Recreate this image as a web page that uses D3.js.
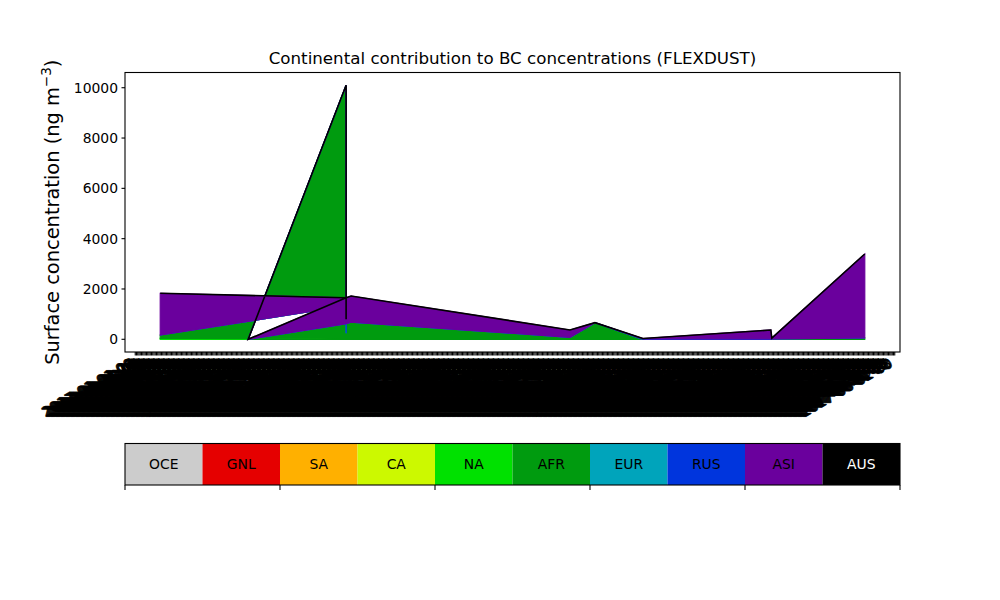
<!DOCTYPE html>
<html>
<head>
<meta charset="utf-8">
<script src="https://cdn.jsdelivr.net/npm/d3@7"></script>
<style>
  body { margin: 0; background: #fff; }
  svg { display: block; }
  text { font-family: "DejaVu Sans", sans-serif; }
</style>
</head>
<body>
<svg id="chart" width="1000" height="600"></svg>
<script>
// ---------------- data ----------------
const regions = ["OCE", "GNL", "SA", "CA", "NA", "AFR", "EUR", "RUS", "ASI", "AUS"];
const regionColors = ["#cccccc", "#e50000", "#ffb000", "#ccf900", "#00e100", "#009b0f", "#00a4bb", "#0035dd", "#6a009d", "#000000"];

// sample positions along the x axis (in the plotting order of the original data)
const sampleX = [0, 30.4, 37.2, 37.2, 17.6, 37.2, 37.2, 37.2, 38.2, 82, 87, 96.6, 122.2, 122.4, 141];

const OCE = [0, 0, 0, 0, 0, 0, 0, 0, 0, 0, 0, 0, 0, 0, 0];
const GNL = [0, 0, 0, 0, 0, 0, 0, 0, 0, 0, 0, 0, 0, 0, 0];
const SA  = [0, 0, 0, 0, 0, 0, 0, 0, 0, 0, 0, 0, 0, 0, 0];
const CA  = [0, 0, 0, 0, 0, 0, 0, 0, 0, 0, 0, 0, 0, 0, 0];
const NA  = [40, 20, 0, 0, 0, 0, 0, 0, 0, 0, 0, 0, 0, 0, 0];
const AFR = [130, 1095, 1630, 620, 0, 10100, 240, 620, 680, 80, 660, 0, 0, 15, 60];
const EUR = [0, 0, 0, 0, 0, 0, 0, 0, 0, 0, 0, 0, 0, 0, 0];
const RUS = [0, 0, 0, 0, 0, 0, 560, 0, 0, 0, 0, 20, 20, 5, 0];
const ASI = [1660, 568, 20, 1030, 0, 0, 0, 1030, 1040, 290, 0, 10, 350, 30, 3330];
const AUS = [0, 0, 0, 0, 0, 0, 0, 0, 0, 0, 0, 0, 0, 0, 0];

const yTicks = [0, 2000, 4000, 6000, 8000, 10000];

// x tick positions and their (date) labels
const xTickStart = -5, xTickEnd = 147, xTickStep = 0.25;
const xTickPositions = d3.range(xTickStart, xTickEnd + 0.001, xTickStep);
const fmtDate = d3.timeFormat("%Y-%m-%d %H");
const xTickLabels = xTickPositions.map((p, i) => fmtDate(d3.timeHour.offset(new Date(2017, 0, 1), i * 6)));

const title = "Continental contribution to BC concentrations (FLEXDUST)";

// ---------------- layout ----------------
const svg = d3.select("#chart");
const L = 125, R = 900, T = 72.5, B = 352;

const series = { OCE, GNL, SA, CA, NA, AFR, EUR, RUS, ASI, AUS };
const rows = sampleX.map((xv, i) => {
  const r = { x: xv };
  regions.forEach(k => r[k] = series[k][i]);
  return r;
});

const xMin = d3.min(sampleX), xMax = d3.max(sampleX);
const xPad = (xMax - xMin) * 0.05;
const x = d3.scaleLinear().domain([xMin - xPad, xMax + xPad]).range([L, R]);

const totals = rows.map(r => d3.sum(regions, k => r[k]));
const yMaxData = d3.max(totals);
const y = d3.scaleLinear().domain([-0.05 * yMaxData, yMaxData * 1.05]).range([B, T]);

const stacked = d3.stack().keys(regions)(rows);

svg.append("clipPath").attr("id", "clip")
  .append("rect").attr("x", L).attr("y", T).attr("width", R - L).attr("height", B - T);

const area = d3.area()
  .x(d => x(d.data.x))
  .y0(d => y(d[0]))
  .y1(d => y(d[1]));

const g = svg.append("g").attr("clip-path", "url(#clip)");
g.selectAll("path.layer").data(stacked).join("path")
  .attr("class", "layer")
  .attr("d", area)
  .attr("fill", (d, i) => regionColors[i])
  .attr("fill-rule", "evenodd")
  .attr("stroke", (d, i) => regionColors[i])
  .attr("stroke-width", (d, i) => i === regions.length - 1 ? 1.6 : 1.2);

// frame
svg.append("rect").attr("x", L).attr("y", T).attr("width", R - L).attr("height", B - T)
  .attr("fill", "none").attr("stroke", "#000").attr("stroke-width", 1.1);

// y axis
const yAxis = svg.append("g");
yTicks.forEach(t => {
  yAxis.append("line").attr("x1", L).attr("x2", L - 3.5).attr("y1", y(t)).attr("y2", y(t))
    .attr("stroke", "#000").attr("stroke-width", 1.1);
  yAxis.append("text").attr("x", L - 7).attr("y", y(t)).attr("dy", "0.35em")
    .attr("text-anchor", "end").attr("font-size", 13.9).text(t);
});

// x axis ticks and labels
const xAxis = svg.append("g");
xTickPositions.forEach((p, i) => {
  const px = x(p);
  xAxis.append("line").attr("x1", px).attr("x2", px).attr("y1", B).attr("y2", B + 3.5)
    .attr("stroke", "#000").attr("stroke-width", 1.1);
  xAxis.append("text")
    .attr("transform", `translate(${px - 1},${B + 14}) rotate(-30)`)
    .attr("text-anchor", "end").attr("font-size", 13.9)
    .attr("stroke", "#000").attr("stroke-width", 0.5)
    .text(xTickLabels[i]);
});

// title
svg.append("text").attr("x", (L + R) / 2).attr("y", 64).attr("text-anchor", "middle")
  .attr("font-size", 16.7).text(title);

// y label
const yl = svg.append("text").attr("transform", `translate(59,${(T + B) / 2}) rotate(-90)`)
  .attr("text-anchor", "middle").attr("font-size", 19.4);
yl.append("tspan").text("Surface concentration (ng m");
yl.append("tspan").attr("font-size", 13.5).attr("dy", -8).text("\u22123");
yl.append("tspan").attr("dy", 8).text(")");

// legend (colour bar)
const LT = 443.5, LB = 485;
const lx = d3.scaleBand().domain(regions).range([L, R]).padding(0);
const leg = svg.append("g");
regions.forEach((k, i) => {
  leg.append("rect").attr("x", lx(k)).attr("y", LT).attr("width", lx.bandwidth()).attr("height", LB - LT)
    .attr("fill", regionColors[i]);
  leg.append("text").attr("x", lx(k) + lx.bandwidth() / 2).attr("y", (LT + LB) / 2).attr("dy", "0.35em")
    .attr("text-anchor", "middle").attr("font-size", 13.9)
    .attr("fill", k === "AUS" ? "#fff" : "#000").text(k);
});
leg.append("rect").attr("x", L).attr("y", LT).attr("width", R - L).attr("height", LB - LT)
  .attr("fill", "none").attr("stroke", "#000").attr("stroke-width", 1.1);
for (let i = 0; i <= regions.length; i += 2) {
  const px = L + i * lx.bandwidth();
  leg.append("line").attr("x1", px).attr("x2", px).attr("y1", LB).attr("y2", LB + 5)
    .attr("stroke", "#000").attr("stroke-width", 1.1);
}
</script>
</body>
</html>
